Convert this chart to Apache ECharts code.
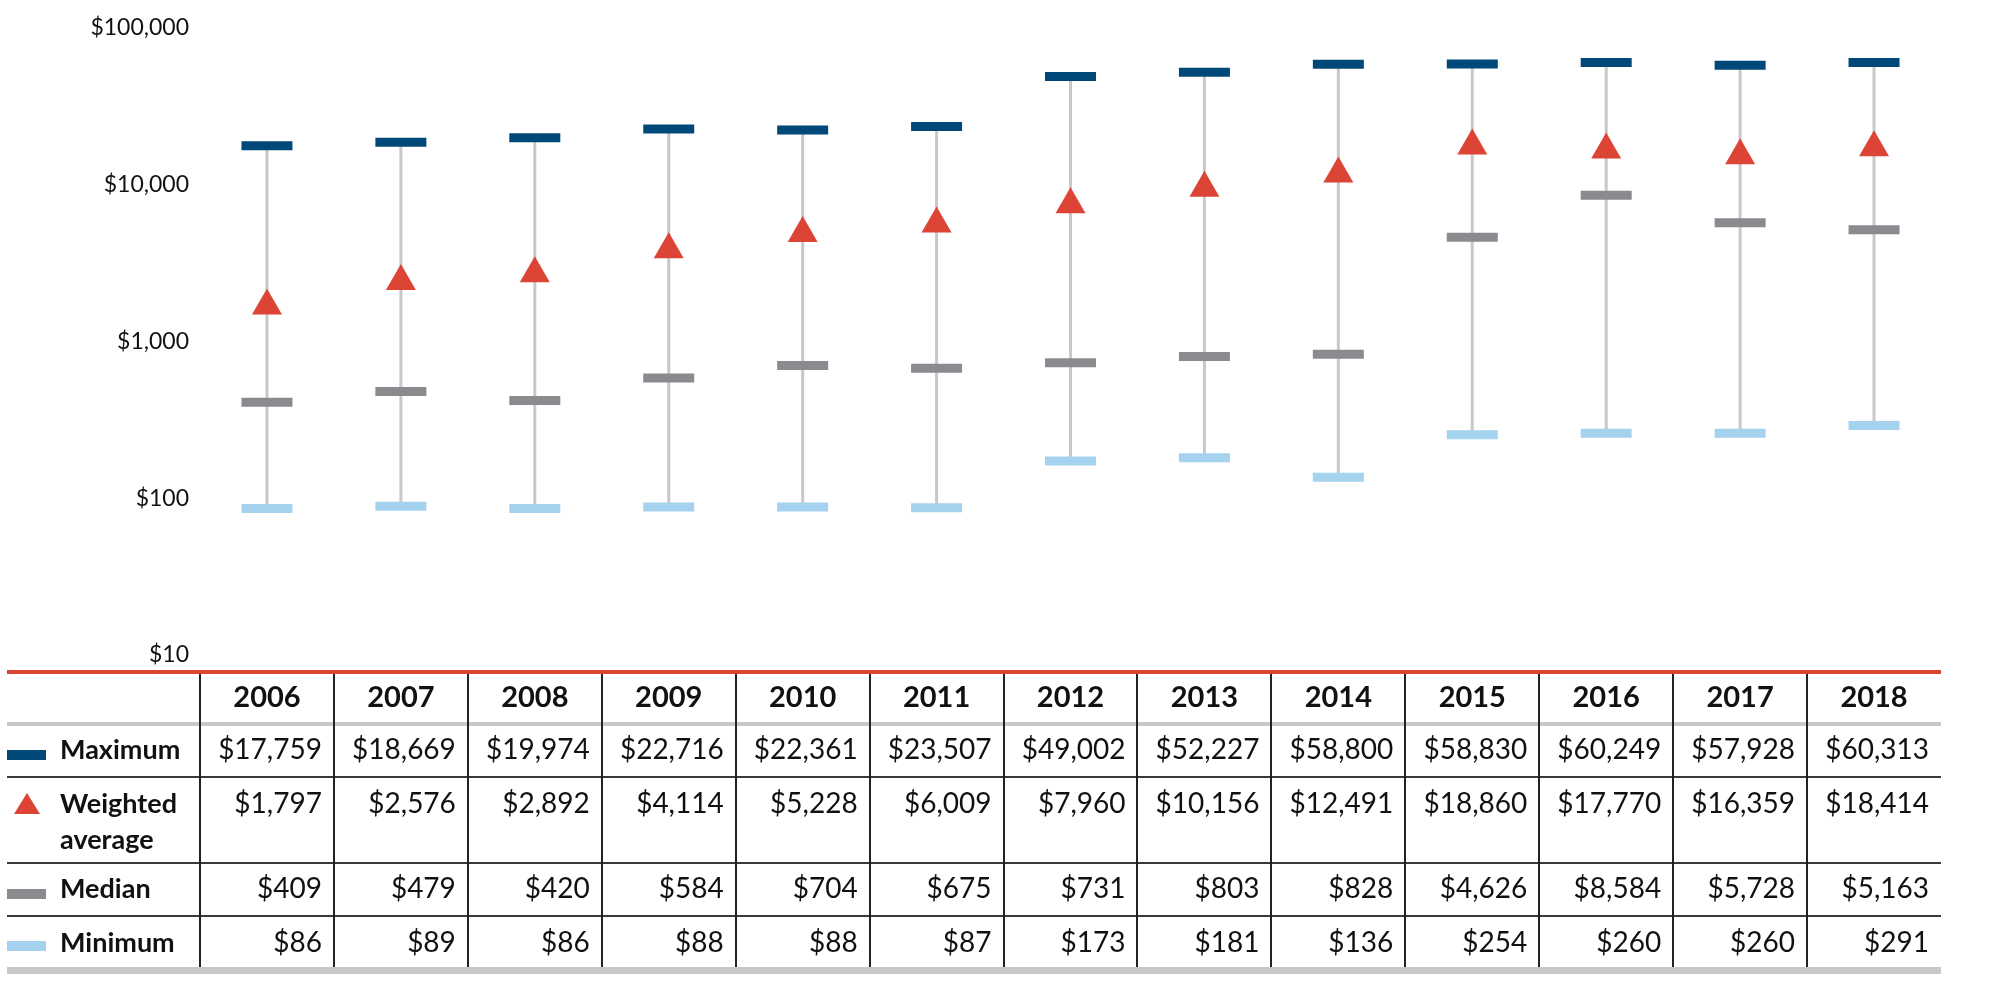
<!DOCTYPE html>
<html>
<head>
<meta charset="utf-8">
<script src="https://cdn.jsdelivr.net/npm/echarts@6/dist/echarts.min.js"></script>
<style>
html,body{margin:0;padding:0;background:#fff;}
#main{width:2012px;height:1004px;}
</style>
</head>
<body>
<div id="main"></div>
<script>
const years = ['2006','2007','2008','2009','2010','2011','2012','2013','2014','2015','2016','2017','2018'];
const maximum = [17759,18669,19974,22716,22361,23507,49002,52227,58800,58830,60249,57928,60313];
const weighted = [1797,2576,2892,4114,5228,6009,7960,10156,12491,18860,17770,16359,18414];
const median = [409,479,420,584,704,675,731,803,828,4626,8584,5728,5163];
const minimum = [86,89,86,88,88,87,173,181,136,254,260,260,291];
const rowNames = ['Maximum','Weighted average','Median','Minimum'];

const C_MAX = '#004878', C_AVG = '#dc4535', C_MED = '#898b8e', C_MIN = '#a5d2ef', C_WHISK = '#c8c8c8';
const FONT = 'Lato, "Open Sans", sans-serif';
const fmt = v => '$' + Number(v).toLocaleString('en-US');

const chart = echarts.init(document.getElementById('main'));
chart.setOption({
  animation: false,
  grid: {left: 200, right: 71, top: 28, bottom: 349},
  xAxis: {type: 'category', data: years, show: false, boundaryGap: true},
  yAxis: {
    type: 'log', logBase: 10, min: 10, max: 100000,
    axisLine: {show: false}, axisTick: {show: false}, splitLine: {show: false},
    axisLabel: {formatter: fmt, fontFamily: FONT, fontSize: 23, color: '#111', margin: 11}
  },
  series: [
    {
      type: 'custom', z: 1,
      data: years.map((y, i) => [i, maximum[i], minimum[i]]),
      encode: {x: 0, y: [1, 2]},
      renderItem: function (params, api) {
        const hi = api.coord([api.value(0), api.value(1)]);
        const lo = api.coord([api.value(0), api.value(2)]);
        return {type: 'line', shape: {x1: hi[0], y1: hi[1], x2: lo[0], y2: lo[1]},
                style: {stroke: C_WHISK, lineWidth: 3}};
      }
    },
    {type: 'scatter', name: 'Minimum', data: minimum, symbol: 'rect', symbolSize: [51, 9], itemStyle: {color: C_MIN, opacity: 1}, z: 2},
    {type: 'scatter', name: 'Median', data: median, symbol: 'rect', symbolSize: [51, 9], itemStyle: {color: C_MED, opacity: 1}, z: 2},
    {type: 'scatter', name: 'Maximum', data: maximum, symbol: 'rect', symbolSize: [51, 9], itemStyle: {color: C_MAX, opacity: 1}, z: 2},
    {type: 'scatter', name: 'Weighted average', data: weighted, symbol: 'triangle', symbolSize: [30, 26], itemStyle: {color: C_AVG, opacity: 1}, z: 3}
  ]
});

// ---- data table drawn with graphic elements, aligned to the category axis ----
const xs = years.map(y => chart.convertToPixel({xAxisIndex: 0}, y));
const colW = xs[1] - xs[0];
const tLeft = 7, tRight = xs[xs.length - 1] + colW / 2;
const yRed = 672, yHead = 724, rowLines = [777, 863, 916], yBottom = 971;
const rowTextY = [750, 804, 889, 943];
const g = [];
g.push({type: 'rect', shape: {x: tLeft, y: yRed - 2, width: tRight - tLeft, height: 4}, style: {fill: C_AVG}});
g.push({type: 'rect', shape: {x: tLeft, y: yHead - 2, width: tRight - tLeft, height: 4}, style: {fill: C_WHISK}});
rowLines.forEach(y => g.push({type: 'line', shape: {x1: tLeft, y1: y, x2: tRight, y2: y}, style: {stroke: '#3a3a3a', lineWidth: 2}}));
g.push({type: 'rect', shape: {x: tLeft, y: yBottom - 4, width: tRight - tLeft, height: 7}, style: {fill: C_WHISK}});
years.forEach((y, i) => {
  const bx = Math.round(xs[i] - colW / 2);
  g.push({type: 'line', shape: {x1: bx, y1: yRed + 2, x2: bx, y2: yBottom - 4}, style: {stroke: '#222', lineWidth: 2}, z: 5});
  g.push({type: 'text', x: xs[i], y: 698, style: {text: y, fontFamily: FONT, fontSize: 29, fontWeight: 'bold', fill: '#111', align: 'center', verticalAlign: 'middle'}});
  const rx = xs[i] + colW / 2 - 12;
  [maximum, weighted, median, minimum].forEach((arr, r) => {
    g.push({type: 'text', x: rx, y: rowTextY[r], style: {text: fmt(arr[i]), fontFamily: FONT, fontSize: 28, fill: '#111', align: 'right', verticalAlign: 'middle'}});
  });
});
// row labels + legend icons
const labStyle = t => ({text: t, fontFamily: FONT, fontSize: 27, fontWeight: 'bold', fill: '#111', align: 'left', verticalAlign: 'middle'});
g.push({type: 'rect', shape: {x: 7, y: 750, width: 39, height: 10}, style: {fill: C_MAX}});
g.push({type: 'text', x: 60, y: rowTextY[0], style: labStyle(rowNames[0])});
g.push({type: 'polygon', shape: {points: [[27, 793], [40, 814], [14, 814]]}, style: {fill: C_AVG}});
const wParts = rowNames[1].split(' ');
g.push({type: 'text', x: 60, y: 804, style: labStyle(wParts[0])});
g.push({type: 'text', x: 60, y: 840, style: labStyle(wParts[1])});
g.push({type: 'rect', shape: {x: 7, y: 889, width: 39, height: 10}, style: {fill: C_MED}});
g.push({type: 'text', x: 60, y: rowTextY[2], style: labStyle(rowNames[2])});
g.push({type: 'rect', shape: {x: 7, y: 941, width: 39, height: 10}, style: {fill: C_MIN}});
g.push({type: 'text', x: 60, y: rowTextY[3], style: labStyle(rowNames[3])});

chart.setOption({graphic: g});
</script>
</body>
</html>
